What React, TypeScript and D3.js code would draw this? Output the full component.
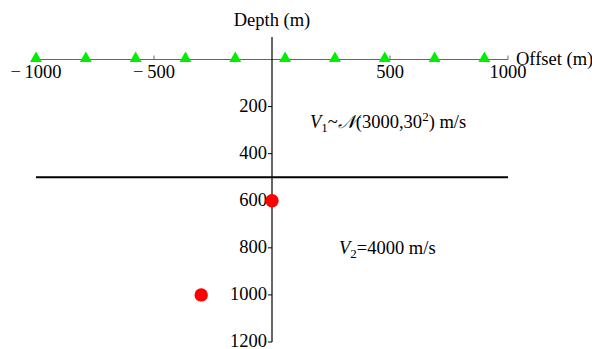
import React from "react";
import * as d3 from "d3";

const xTicks = [-1000, -500, 500, 1000];
const yTicks = [200, 400, 600, 800, 1000, 1200];
const receiverX = [-1000, -788.9, -577.8, -366.7, -155.6, 55.6, 266.7, 477.8, 688.9, 900];
const sourceX = [0, -300];
const sourceDepth = [600, 1000];
const interfaceDepth = 500;

const W = 592, H = 349;
const font = "'Liberation Serif', 'Times New Roman', serif";
const FS = 18.5;

export default function App() {
  const x = d3.scaleLinear().domain([-1000, 1000]).range([36, 508]);
  const y = d3.scaleLinear().domain([0, 1200]).range([59.5, 342]);
  const tri = d3.symbol().type(d3.symbolTriangle).size(62)() as string;
  const fmt = (v: number) => (v < 0 ? "\u2212\u2009" + Math.abs(v) : String(v));
  return (
    <svg width={W} height={H} style={{ position: "absolute", left: 0, top: 0, background: "#fff" }} fontFamily={font}>
      {/* x axis */}
      <line x1={x(-1016)} x2={x(1000)} y1={y(0)} y2={y(0)} stroke="#666" strokeWidth={1.2} />
      {xTicks.map((t) => (
        <g key={t}>
          <line x1={x(t)} x2={x(t)} y1={y(0)} y2={y(0) - 4} stroke="#666" strokeWidth={1} />
          <text x={x(t)} y={y(0) + 18} fontSize={FS} textAnchor="middle" fill="#000">{fmt(t)}</text>
        </g>
      ))}
      <text x={516} y={y(0) + 5} fontSize={FS} fill="#000">Offset (m)</text>
      {/* y axis */}
      <line x1={x(0)} x2={x(0)} y1={37} y2={y(1200)} stroke="#000" strokeWidth={1.2} />
      {yTicks.map((t) => (
        <g key={t}>
          <line x1={x(0) - 4} x2={x(0)} y1={y(t)} y2={y(t)} stroke="#000" strokeWidth={1} />
          <text x={x(0) - 5} y={y(t) + 5} fontSize={FS} textAnchor="end" fill="#000">{t}</text>
        </g>
      ))}
      <text x={x(0)} y={26} fontSize={FS} textAnchor="middle" fill="#000">Depth (m)</text>
      {/* interface */}
      <line x1={x(-1000)} x2={x(1000)} y1={y(interfaceDepth)} y2={y(interfaceDepth)} stroke="#000" strokeWidth={2} />
      {/* receivers */}
      {receiverX.map((r, i) => (
        <path key={i} d={tri} transform={`translate(${x(r)},${y(0) - 1})`} fill="#00ee00" />
      ))}
      {/* sources */}
      {sourceX.map((s, i) => (
        <circle key={i} cx={x(s)} cy={y(sourceDepth[i])} r={6.7} fill="#ff0000" />
      ))}
      {/* annotations */}
      <text x={310} y={128} fontSize={FS} fill="#000">
        <tspan fontStyle="italic">V</tspan>
        <tspan fontSize={13} dy={4}>1</tspan>
        <tspan dy={-4}>~</tspan>
        <tspan fontStyle="italic">𝒩</tspan>
        <tspan>(3000,30</tspan>
        <tspan fontSize={13} dy={-7}>2</tspan>
        <tspan dy={7}>) m/s</tspan>
      </text>
      <text x={339} y={254} fontSize={FS} fill="#000">
        <tspan fontStyle="italic">V</tspan>
        <tspan fontSize={13} dy={4}>2</tspan>
        <tspan dy={-4}>=4000 m/s</tspan>
      </text>
    </svg>
  );
}
